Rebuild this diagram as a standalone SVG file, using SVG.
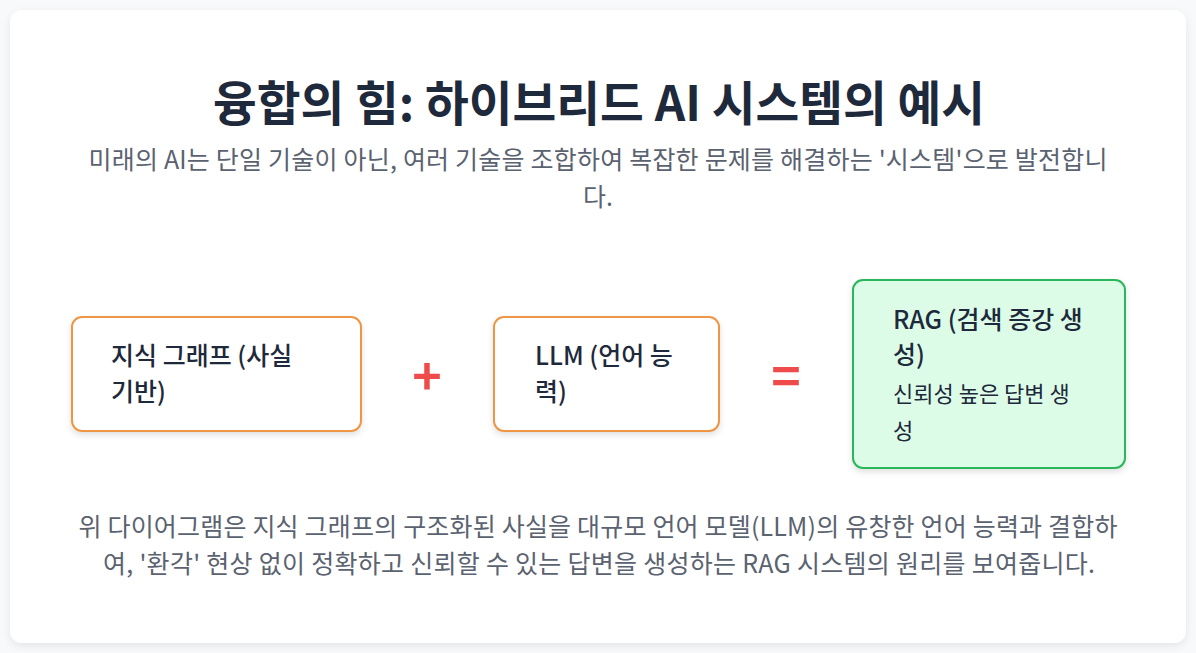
<svg xmlns="http://www.w3.org/2000/svg" width="1196" height="653" viewBox="0 0 1196 653">
<defs>
<filter id="sh" x="-10%" y="-10%" width="120%" height="130%">
<feDropShadow dx="0" dy="3" stdDeviation="4" flood-color="#000" flood-opacity="0.08"/>
</filter>
<filter id="nsh" x="-10%" y="-10%" width="120%" height="130%">
<feDropShadow dx="0" dy="3" stdDeviation="3" flood-color="#000" flood-opacity="0.12"/>
</filter>
<style>
text{font-family:"Noto Sans CJK KR","Noto Sans",sans-serif;}
.title{font-size:48px;font-weight:700;fill:#1e293b;text-anchor:middle;}
.sub{font-size:25px;fill:#5b6270;text-anchor:middle;}
.lbl{font-size:25px;font-weight:500;fill:#1e293b;}
.small{font-size:22px;fill:#1e293b;}
.op{font-size:50px;font-weight:700;fill:#ef4b4b;text-anchor:middle;}
.box{fill:#ffffff;stroke:#ef9645;stroke-width:2;}
.gbox{fill:#dcfce7;stroke:#2bb65a;stroke-width:2;}
</style>
</defs>
<rect width="1196" height="653" fill="#f8f9fa"/>
<rect x="10" y="10" width="1176" height="633" rx="12" fill="#ffffff" filter="url(#sh)"/>
<text class="title" x="599" y="121" textLength="772" lengthAdjust="spacingAndGlyphs">융합의 힘: 하이브리드 AI 시스템의 예시</text>
<text class="sub" x="598" y="169" textLength="1019">미래의 AI는 단일 기술이 아닌, 여러 기술을 조합하여 복잡한 문제를 해결하는 '시스템'으로 발전합니</text>
<text class="sub" x="598" y="206">다.</text>
<g id="node-kg">
<rect class="box" x="72" y="317" width="289" height="114" rx="10" filter="url(#nsh)"/>
<text class="lbl" x="111" y="365">지식 그래프 (사실</text>
<text class="lbl" x="111" y="401">기반)</text>
</g>
<g id="node-plus">
<text class="op" x="427" y="395">+</text>
</g>
<g id="node-llm">
<rect class="box" x="494" y="317" width="225" height="114" rx="10" filter="url(#nsh)"/>
<text class="lbl" x="535" y="365">LLM (언어 능</text>
<text class="lbl" x="535" y="401">력)</text>
</g>
<g id="node-eq">
<text class="op" x="786" y="395">=</text>
</g>
<g id="node-rag">
<rect class="gbox" x="853" y="280" width="272" height="188" rx="10" filter="url(#nsh)"/>
<text class="lbl" x="893" y="329">RAG (검색 증강 생</text>
<text class="lbl" x="893" y="364">성)</text>
<text class="small" x="893" y="402">신뢰성 높은 답변 생</text>
<text class="small" x="893" y="439">성</text>
</g>
<g id="connectors"></g>
<text class="sub" x="598" y="536" textLength="1039">위 다이어그램은 지식 그래프의 구조화된 사실을 대규모 언어 모델(LLM)의 유창한 언어 능력과 결합하</text>
<text class="sub" x="599" y="573" textLength="992">여, '환각' 현상 없이 정확하고 신뢰할 수 있는 답변을 생성하는 RAG 시스템의 원리를 보여줍니다.</text>
</svg>
